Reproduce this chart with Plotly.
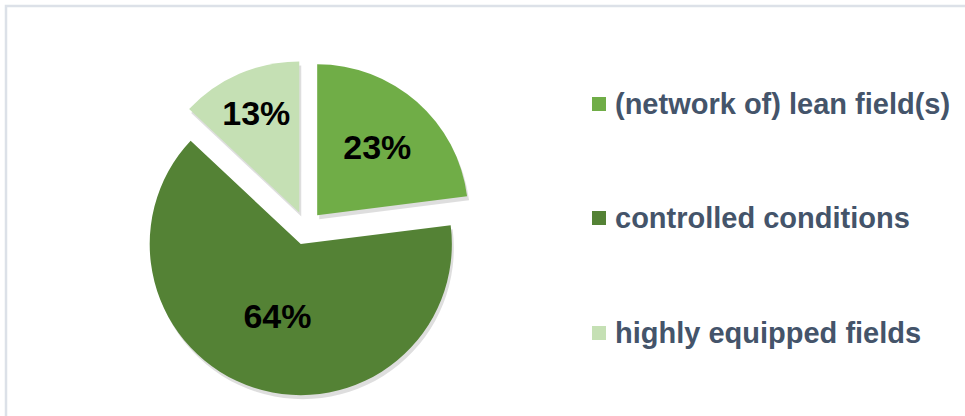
import plotly.graph_objects as go

labels = ["(network of) lean field(s)", "controlled conditions", "highly equipped fields"]
values = [23, 64, 13]
colors = ["#70AD47", "#548235", "#C5E0B4"]

W, H = 965, 416
FONT = "Liberation Sans, Arial, sans-serif"
PULL = 0.112


def px_x(x):
    return x / W


def px_y(y):
    return 1 - y / H


pie_dom = dict(x=[px_x(138), px_x(474)], y=[px_y(396), px_y(60)])
# soft drop shadow, a few pixels down/right of the real pie
shadow_dom = dict(x=[px_x(140), px_x(476)], y=[px_y(400), px_y(64)])

fig = go.Figure()

fig.add_trace(go.Pie(
    labels=labels, values=values, sort=False, direction="clockwise", rotation=0,
    pull=[PULL] * len(values), domain=shadow_dom,
    marker=dict(colors=["rgba(0,0,0,0.13)"] * len(values)),
    textinfo="none", hoverinfo="skip", showlegend=False,
))

fig.add_trace(go.Pie(
    labels=labels, values=values, sort=False, direction="clockwise", rotation=0,
    pull=[PULL] * len(values), domain=pie_dom,
    marker=dict(colors=colors, line=dict(width=0)),
    texttemplate="%{value}%", textposition="inside",
    insidetextorientation="horizontal",
    textfont=dict(family=FONT, size=34, color="black", weight="bold"),
    showlegend=False,
))

# legend built by hand so the rows can sit far apart like the original
legend_y = [104, 218, 333]
shapes = [
    dict(type="rect", xref="paper", yref="paper",
         x0=px_x(6), x1=1.02, y0=-0.02, y1=px_y(6),
         line=dict(color="#DCE1E8", width=2.5), fillcolor="rgba(0,0,0,0)"),
]
annotations = []
for lab, col, y in zip(labels, colors, legend_y):
    shapes.append(dict(type="rect", xref="paper", yref="paper",
                       x0=px_x(592), x1=px_x(606), y0=px_y(y + 7), y1=px_y(y - 7),
                       fillcolor=col, line=dict(width=0)))
    annotations.append(dict(x=px_x(613), y=px_y(y), xref="paper", yref="paper",
                            xanchor="left", yanchor="middle", showarrow=False,
                            text=lab,
                            font=dict(family=FONT, size=29, color="#44546A", weight="bold")))

fig.update_layout(
    width=W, height=H,
    margin=dict(l=0, r=0, t=0, b=0),
    paper_bgcolor="white", plot_bgcolor="white",
    shapes=shapes, annotations=annotations,
)

fig.write_html("out.html", config={"displayModeBar": False},
               post_script="document.body.style.margin='0';")
